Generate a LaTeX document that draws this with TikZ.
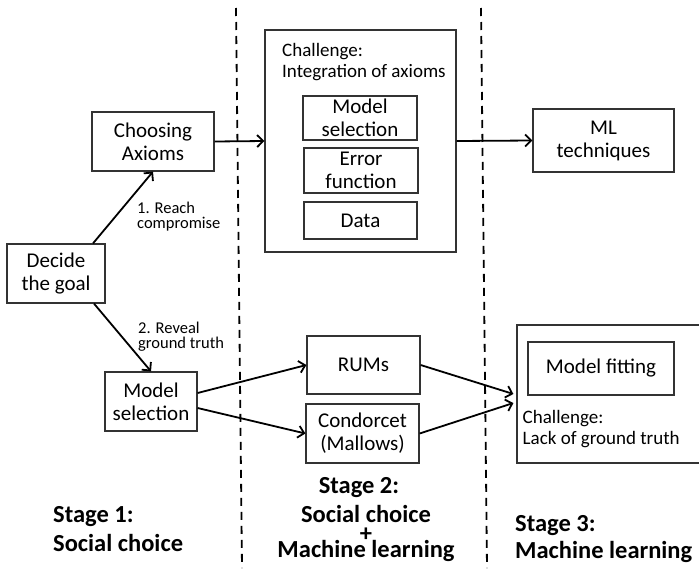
\documentclass[tikz,border=0pt]{standalone}
\usepackage{fontspec}
\setmainfont{Carlito}
\usetikzlibrary{arrows.meta,calc}
\begin{document}
\begin{tikzpicture}[x=1pt,y=-1pt,
  box/.style={draw=black!80, line width=1.2pt, inner sep=0pt, align=center,
              font=\fontsize{21}{23}\selectfont},
  frame/.style={draw=black!80, line width=1.2pt, inner sep=0pt},
  arr/.style={line width=1.8pt, -{Straight Barb[length=6pt,width=12pt]}},
  sep/.style={line width=1.8pt, dash pattern=on 8pt off 6pt},
  lab/.style={inner sep=0pt, align=left, font=\fontsize{16.5}{15}\selectfont},
  ctext/.style={inner sep=0pt, align=left, font=\fontsize{19}{20.5}\selectfont},
  stage/.style={inner sep=0pt, font=\bfseries\fontsize{24.5}{29}\selectfont}]
\useasboundingbox (0,0) rectangle (699,568);
\clip (0,0) rectangle (699,568);
% separators
\coordinate (d1t) at (236,8);
\coordinate (d1b) at (242,568);
\coordinate (d2t) at (481,8);
\coordinate (d2b) at (487,568);
\draw[sep] (d1t) -- (d1b);
\draw[sep] (d2t) -- (d2b);
% stage 1 nodes
\node[box, minimum width=98pt, minimum height=59pt] (decide) at (56,273.5) {Decide\\the goal};
\node[box, minimum width=122pt, minimum height=59pt] (choose) at (153,141.5) {Choosing\\Axioms};
\node[box, minimum width=92pt, minimum height=59pt] (modsel) at (151,401.5) {Model\\selection};
% stage 2 big box
\node[frame, minimum width=191pt, minimum height=222pt] (big) at (360.5,141) {};
\node[ctext, anchor=base west] (c1) at (282,77) {Challenge:\\Integration of axioms};
\node[box, minimum width=114pt, minimum height=44pt] (msel) at (360,118) {Model\\selection};
\node[box, minimum width=114pt, minimum height=45pt] (err) at (361,170.5) {Error\\function};
\node[box, minimum width=113pt, minimum height=37pt] (data) at (360.5,220.5) {Data};
\node[box, minimum width=113pt, minimum height=58pt] (rums) at (363.5,365) {RUMs};
\node[box, minimum width=113pt, minimum height=59pt] (cond) at (362.5,433.5) {Condorcet\\(Mallows)};
% stage 3
\node[box, minimum width=141pt, minimum height=63pt] (ml) at (603.5,140.5) {ML\\techniques};
\node[frame, minimum width=188pt, minimum height=138pt] (right) at (611,394) {};
\node[box, minimum width=146pt, minimum height=53pt] (fit) at (601,368.5) {Model fitting};
\node[ctext, anchor=base west] (c2) at (522.5,444) {Challenge:\\Lack of ground truth};
% labels
\node[lab, anchor=base west] (l1) at (137,228) {1. Reach\\compromise};
\node[lab, anchor=base west] (l2) at (138,348) {2. Reveal\\ground truth};
% arrows
\draw[arr] ([xshift=37pt]decide.north) -- (choose.south);
\draw[arr] ([xshift=38pt]decide.south) -- (modsel.north);
\draw[arr] (choose.east) -- (big.west);
\draw[arr] (big.east) -- (ml.west);
\draw[arr] ([yshift=8.5pt]modsel.east) -- (rums.west);
\draw[arr] ([yshift=-6.5pt]modsel.east) -- (cond.west);
\draw[arr] (rums.east) -- ([xshift=-3pt]right.west);
\draw[arr] (cond.east) -- ([xshift=-3pt,yshift=-9pt]right.west);
% stage titles
\node[stage, anchor=base west, align=left] (s1) at (53,551) {Stage 1:\\Social choice};
\node[stage, anchor=base, align=center] (s2) at (366,557) {Stage 2:\hspace*{14pt}\\Social choice\\[-10pt]+\\[-13pt]Machine learning};
\node[stage, anchor=base west, align=left] (s3) at (515,558) {Stage 3:\\[-2.5pt]Machine learning};
\end{tikzpicture}
\end{document}
